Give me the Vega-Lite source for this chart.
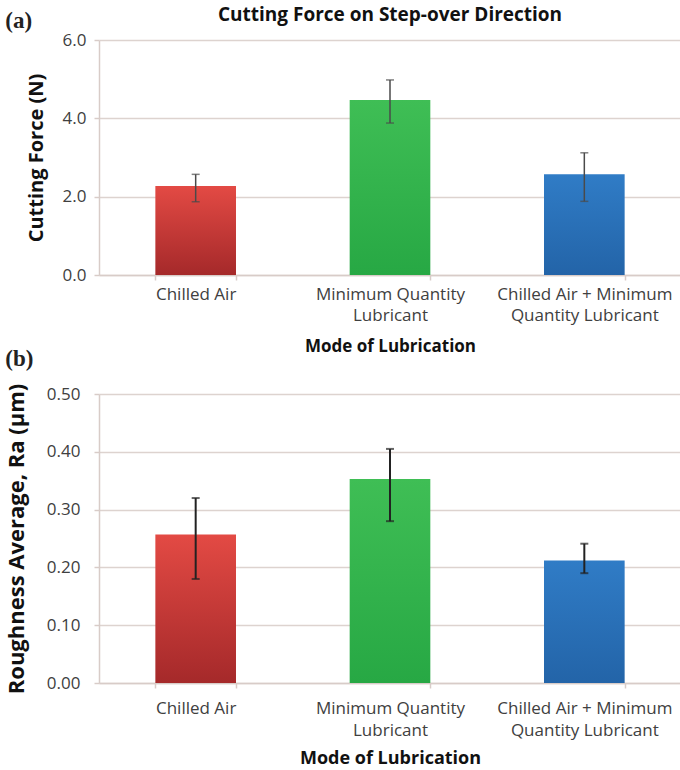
{
  "$schema": "https://vega.github.io/schema/vega-lite/v6.json",
  "background": "white",
  "padding": {"left": 5, "top": 6, "right": 0, "bottom": 0},
  "title": {"text": "(a)", "anchor": "start", "frame": "bounds", "offset": -27, "font": "Liberation Serif", "fontSize": 23, "fontWeight": "bold", "color": "#222222"},
  "config": {
    "font": "Open Sans",
    "view": {"stroke": null},
    "axis": {
      "labelFont": "Open Sans", "labelFontSize": 17, "labelColor": "#404040",
      "titleFont": "Open Sans", "titleFontSize": 17, "titleFontWeight": "bold", "titleColor": "#111111",
      "domainColor": "#d8ccc8", "domainWidth": 1.5, "tickColor": "#d8ccc8", "tickWidth": 1.5,
      "gridColor": "#ddd3cf", "gridWidth": 1.5
    },
    "title": {"font": "Open Sans", "fontSize": 19, "fontWeight": "bold", "color": "#111111"}
  },
  "datasets": {
    "force": [
      {"mode": "Chilled Air", "value": 2.27, "low": 1.87, "high": 2.57},
      {"mode": "Minimum Quantity Lubricant", "value": 4.47, "low": 3.88, "high": 4.98},
      {"mode": "Chilled Air + Minimum Quantity Lubricant", "value": 2.57, "low": 1.88, "high": 3.12}
    ],
    "rough": [
      {"mode": "Chilled Air", "value": 0.257, "low": 0.18, "high": 0.32},
      {"mode": "Minimum Quantity Lubricant", "value": 0.353, "low": 0.28, "high": 0.405},
      {"mode": "Chilled Air + Minimum Quantity Lubricant", "value": 0.212, "low": 0.19, "high": 0.241}
    ]
  },
  "spacing": -6,
  "vconcat": [
    {
      "width": 582,
      "height": 235,
      "title": {"text": "Cutting Force on Step-over Direction", "anchor": "middle", "offset": 6},
      "data": {"name": "force"},
      "encoding": {
        "x": {
          "field": "mode", "type": "nominal", "sort": null,
          "scale": {"paddingInner": 0.585, "paddingOuter": 0.29},
          "axis": {
            "title": "Mode of Lubrication", "labelAngle": 0, "tickBand": "extent", "tickSize": 5,
            "labelPadding": 6, "titlePadding": 15, "labelLineHeight": 21,
            "labelExpr": "datum.label == 'Minimum Quantity Lubricant' ? ['Minimum Quantity', 'Lubricant'] : datum.label == 'Chilled Air + Minimum Quantity Lubricant' ? ['Chilled Air + Minimum', 'Quantity Lubricant'] : datum.label"
          }
        }
      },
      "layer": [
        {
          "transform": [{"filter": "datum.mode == 'Chilled Air'"}],
          "mark": {"type": "bar", "color": {"gradient": "linear", "x1": 0, "y1": 0, "x2": 0, "y2": 1, "stops": [{"offset": 0, "color": "#e34a44"}, {"offset": 1, "color": "#a5292a"}]}},
          "encoding": {"y": {"field": "value", "type": "quantitative"}}
        },
        {
          "transform": [{"filter": "datum.mode == 'Minimum Quantity Lubricant'"}],
          "mark": {"type": "bar", "color": {"gradient": "linear", "x1": 0, "y1": 0, "x2": 0, "y2": 1, "stops": [{"offset": 0, "color": "#3fbe55"}, {"offset": 1, "color": "#27a844"}]}},
          "encoding": {"y": {"field": "value", "type": "quantitative"}}
        },
        {
          "transform": [{"filter": "datum.mode == 'Chilled Air + Minimum Quantity Lubricant'"}],
          "mark": {"type": "bar", "color": {"gradient": "linear", "x1": 0, "y1": 0, "x2": 0, "y2": 1, "stops": [{"offset": 0, "color": "#307cc6"}, {"offset": 1, "color": "#2364a8"}]}},
          "encoding": {"y": {"field": "value", "type": "quantitative"}}
        },
        {
          "mark": {"type": "errorbar", "color": "#4a4a4a", "ticks": {"size": 8, "thickness": 1.5}, "rule": {"strokeWidth": 1.5}},
          "encoding": {
            "y": {"field": "low", "type": "quantitative",
              "scale": {"domain": [0, 6]},
              "axis": {"title": "Cutting Force (N)", "values": [0, 2, 4, 6], "format": ".1f", "grid": true, "tickSize": 5, "labelPadding": 8, "titlePadding": 16, "titleFontSize": 20}},
            "y2": {"field": "high"}
          }
        }
      ]
    },
    {
      "width": 582,
      "height": 289,
      "title": {"text": "(b)", "anchor": "start", "frame": "bounds", "font": "Liberation Serif", "fontSize": 23, "fontWeight": "bold", "color": "#222222", "offset": 12},
      "data": {"name": "rough"},
      "encoding": {
        "x": {
          "field": "mode", "type": "nominal", "sort": null,
          "scale": {"paddingInner": 0.585, "paddingOuter": 0.29},
          "axis": {
            "title": "Mode of Lubrication", "labelAngle": 0, "tickBand": "extent", "tickSize": 5,
            "labelPadding": 12, "titlePadding": 11, "labelLineHeight": 22, "titleFontSize": 18,
            "labelExpr": "datum.label == 'Minimum Quantity Lubricant' ? ['Minimum Quantity', 'Lubricant'] : datum.label == 'Chilled Air + Minimum Quantity Lubricant' ? ['Chilled Air + Minimum', 'Quantity Lubricant'] : datum.label"
          }
        }
      },
      "layer": [
        {
          "transform": [{"filter": "datum.mode == 'Chilled Air'"}],
          "mark": {"type": "bar", "color": {"gradient": "linear", "x1": 0, "y1": 0, "x2": 0, "y2": 1, "stops": [{"offset": 0, "color": "#e34a44"}, {"offset": 1, "color": "#a5292a"}]}},
          "encoding": {"y": {"field": "value", "type": "quantitative"}}
        },
        {
          "transform": [{"filter": "datum.mode == 'Minimum Quantity Lubricant'"}],
          "mark": {"type": "bar", "color": {"gradient": "linear", "x1": 0, "y1": 0, "x2": 0, "y2": 1, "stops": [{"offset": 0, "color": "#3fbe55"}, {"offset": 1, "color": "#27a844"}]}},
          "encoding": {"y": {"field": "value", "type": "quantitative"}}
        },
        {
          "transform": [{"filter": "datum.mode == 'Chilled Air + Minimum Quantity Lubricant'"}],
          "mark": {"type": "bar", "color": {"gradient": "linear", "x1": 0, "y1": 0, "x2": 0, "y2": 1, "stops": [{"offset": 0, "color": "#307cc6"}, {"offset": 1, "color": "#2364a8"}]}},
          "encoding": {"y": {"field": "value", "type": "quantitative"}}
        },
        {
          "mark": {"type": "errorbar", "color": "#222222", "ticks": {"size": 8, "thickness": 2}, "rule": {"strokeWidth": 2}},
          "encoding": {
            "y": {"field": "low", "type": "quantitative",
              "scale": {"domain": [0, 0.5]},
              "axis": {"title": "Roughness Average, Ra (µm)", "values": [0, 0.1, 0.2, 0.3, 0.4, 0.5], "format": ".2f", "grid": true, "tickSize": 5, "labelPadding": 14, "titlePadding": 18, "titleFontSize": 22}},
            "y2": {"field": "high"}
          }
        }
      ]
    }
  ]
}
